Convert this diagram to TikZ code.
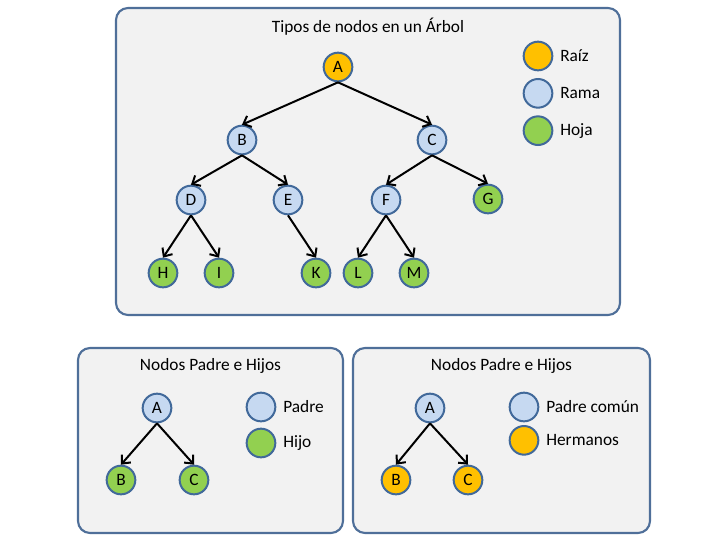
\documentclass[tikz,border=0pt]{standalone}
\usepackage{fontspec}
\setmainfont{Carlito}
\usetikzlibrary{positioning,arrows.meta}
\definecolor{fondo}{HTML}{F2F2F2}
\definecolor{marco}{HTML}{4F6F99}
\definecolor{borde}{HTML}{41699A}
\definecolor{raizc}{HTML}{FFC000}
\definecolor{ramac}{HTML}{C6D9F1}
\definecolor{hojac}{HTML}{92D050}
\tikzset{
    panel/.style={
        rectangle,
        draw=marco,
        fill=fondo,
        line width=1.6pt,
        rounded corners=9pt,
    },
    nodo/.style={
        circle,
        draw=borde,
        line width=1.5pt,
        minimum size=21.5pt,
        inner sep=0pt,
        font=\fontsize{13}{15}\selectfont,
    },
    raiz/.style={nodo,fill=raizc},
    rama/.style={nodo,fill=ramac},
    hoja/.style={nodo,fill=hojac},
    titulo/.style={
        font=\fontsize{13}{15}\selectfont,
    },
    leyenda/.style={
        font=\fontsize{13}{15}\selectfont,
        inner sep=0pt,
    },
    arista/.style={
        -{Straight Barb[length=5pt,width=9pt]},
        line width=1.5pt,
    },
}
\begin{document}
\begin{tikzpicture}[x=0.75pt,y=-0.75pt]
    \useasboundingbox (0,0) rectangle (728,547);
    \node[panel,minimum width=378pt,minimum height=230.25pt](T1) at (368,161.5){};
    \node[panel,minimum width=198.75pt,minimum height=138.75pt](T2) at (210.5,440.5){};
    \node[panel,minimum width=222.75pt,minimum height=138.75pt](T3) at (501.5,440.5){};
    \node[titulo](t1) at (368,27){Tipos de nodos en un Árbol};
    \node[titulo](t2) at (210.5,366){Nodos Padre e Hijos};
    \node[titulo](t3) at (501.5,366){Nodos Padre e Hijos};
    \node[raiz](a) at (338,67){A};
    \node[rama](b) at (242,140){B};
    \node[rama](c) at (432,140){C};
    \node[rama](d) at (191,200){D};
    \node[rama](e) at (288,200){E};
    \node[rama](f) at (386,200){F};
    \node[hoja](g) at (488,199){G};
    \node[hoja](h) at (163,273){H};
    \node[hoja](i) at (219,273){I};
    \node[hoja](k) at (316,273){K};
    \node[hoja](l) at (358,273){L};
    \node[hoja](m) at (414,273){M};
    \draw[arista] (a.south) -- (b.north);
    \draw[arista] (a.south) -- (c.north);
    \draw[arista] (b.south) -- (d.north);
    \draw[arista] (b.south) -- (e.north);
    \draw[arista] (c.south) -- (f.north);
    \draw[arista] (c.south) -- (g.north);
    \draw[arista] (d.south) -- (h.north);
    \draw[arista] (d.south) -- (i.north);
    \draw[arista] (e.south) -- (k.north);
    \draw[arista] (f.south) -- (l.north);
    \draw[arista] (f.south) -- (m.north);
    \node[raiz](l1) at (538,56){};
    \node[rama,below=5pt of l1](l2){};
    \node[hoja,below=5pt of l2](l3){};
    \node[leyenda,right=5pt of l1](tl1){Raíz};
    \node[leyenda,right=5pt of l2](tl2){Rama};
    \node[leyenda,right=5pt of l3](tl3){Hoja};
    \node[rama](pa) at (157,408){A};
    \node[hoja](pb) at (121,480){B};
    \node[hoja](pc) at (194,480){C};
    \draw[arista] (pa.south) -- (pb.north);
    \draw[arista] (pa.south) -- (pc.north);
    \node[rama](lp1) at (261,407){};
    \node[hoja,below=4pt of lp1](lp2){};
    \node[leyenda,right=5pt of lp1](tlp1){Padre};
    \node[leyenda,right=5pt of lp2](tlp2){Hijo};
    \node[rama](ha) at (430,408){A};
    \node[raiz](hb) at (396,480){B};
    \node[raiz](hc) at (468,480){C};
    \draw[arista] (ha.south) -- (hb.north);
    \draw[arista] (ha.south) -- (hc.north);
    \node[rama](lh1) at (524,407){};
    \node[raiz,below=2pt of lh1](lh2){};
    \node[leyenda,right=5pt of lh1](tlh1){Padre común};
    \node[leyenda,right=5pt of lh2](tlh2){Hermanos};
\end{tikzpicture}
\end{document}
